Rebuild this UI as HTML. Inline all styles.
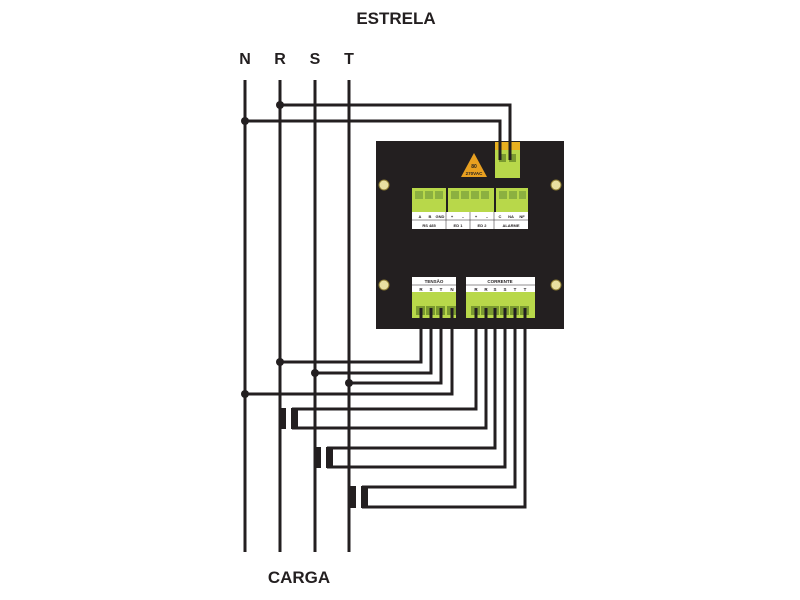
<!DOCTYPE html>
<html><head><meta charset="utf-8"><style>
html,body{margin:0;padding:0;background:#fff;width:800px;height:600px;overflow:hidden}
svg{display:block}
text{font-family:"Liberation Sans",sans-serif;font-weight:bold}
</style></head><body>
<svg width="800" height="600" viewBox="0 0 800 600" xmlns="http://www.w3.org/2000/svg">
<text x="396" y="24" font-size="17" text-anchor="middle" fill="#231f20">ESTRELA</text>
<g font-size="16" fill="#231f20" text-anchor="middle">
<text x="245" y="64">N</text><text x="280" y="64">R</text><text x="315" y="64">S</text><text x="349" y="64">T</text>
</g>
<text x="299" y="583" font-size="17" text-anchor="middle" fill="#231f20">CARGA</text>
<g stroke="#231f20" stroke-width="3" fill="none">
<line x1="245" y1="80" x2="245" y2="552"/>
<line x1="280" y1="80" x2="280" y2="552"/>
<line x1="315" y1="80" x2="315" y2="552"/>
<line x1="349" y1="80" x2="349" y2="552"/>
<polyline points="280,105 510,105 510,160"/>
<polyline points="245,121 500,121 500,160"/>
<polyline points="280,362 421,362 421,318"/>
<polyline points="315,373 431,373 431,318"/>
<polyline points="349,383 441,383 441,318"/>
<polyline points="245,394 452,394 452,318"/>
<polyline points="292,409 476,409 476,318"/>
<polyline points="292,428 486,428 486,318"/>
<polyline points="327,448 495,448 495,318"/>
<polyline points="327,467 505,467 505,318"/>
<polyline points="362,487 515,487 515,318"/>
<polyline points="362,507 525,507 525,318"/>
</g>
<g fill="#231f20">
<circle cx="280" cy="105" r="4"/><circle cx="245" cy="121" r="4"/>
<circle cx="280" cy="362" r="4"/><circle cx="315" cy="373" r="4"/><circle cx="349" cy="383" r="4"/><circle cx="245" cy="394" r="4"/>
<rect x="279" y="408" width="7" height="21"/><rect x="291" y="408" width="7" height="21"/>
<rect x="314" y="447" width="7" height="21"/><rect x="326" y="447" width="7" height="21"/>
<rect x="349" y="486" width="7" height="22"/><rect x="361" y="486" width="7" height="22"/>
<rect x="376" y="141" width="188" height="188"/>
</g>
<!-- screws -->
<g fill="#e8e0a0" stroke="#8a7a30" stroke-width="1">
<circle cx="384" cy="185" r="5"/><circle cx="556" cy="185" r="5"/><circle cx="384" cy="285" r="5"/><circle cx="556" cy="285" r="5"/>
</g>
<!-- top connector -->
<rect x="495" y="142" width="25" height="8" fill="#e8b020"/>
<rect x="495" y="150" width="25" height="28" fill="#b8d84a"/>
<rect x="499" y="154" width="7" height="8" fill="#7a9a30"/><rect x="509" y="154" width="7" height="8" fill="#7a9a30"/>
<g stroke="#231f20" stroke-width="3"><line x1="500" y1="142" x2="500" y2="160"/><line x1="510" y1="142" x2="510" y2="160"/></g>
<!-- warning -->
<polygon points="474,153 461,177 487,177" fill="#e8a020"/>
<text x="474" y="168" font-size="5" text-anchor="middle" fill="#231f20">80</text>
<text x="474" y="175" font-size="4.5" text-anchor="middle" fill="#231f20">270VAC</text>
<!-- top green blocks -->
<g fill="#b8d84a"><rect x="412" y="188" width="34" height="24"/><rect x="448" y="188" width="46" height="24"/><rect x="496" y="188" width="32" height="24"/></g>
<g fill="#8cb040">
<rect x="415" y="191" width="8" height="8"/><rect x="425" y="191" width="8" height="8"/><rect x="435" y="191" width="8" height="8"/>
<rect x="451" y="191" width="8" height="8"/><rect x="461" y="191" width="8" height="8"/><rect x="471" y="191" width="8" height="8"/><rect x="481" y="191" width="8" height="8"/>
<rect x="499" y="191" width="8" height="8"/><rect x="509" y="191" width="8" height="8"/><rect x="519" y="191" width="7" height="8"/>
</g>
<rect x="412" y="212" width="116" height="17" fill="#fff"/>
<g stroke="#231f20" stroke-width="0.5"><line x1="412" y1="220" x2="528" y2="220"/>
<line x1="446" y1="212" x2="446" y2="229"/><line x1="470" y1="212" x2="470" y2="229"/><line x1="494" y1="212" x2="494" y2="229"/></g>
<g font-size="4" fill="#231f20" text-anchor="middle">
<text x="420" y="218">A</text><text x="430" y="218">B</text><text x="440" y="218">GND</text>
<text x="452" y="218">+</text><text x="463" y="218">–</text><text x="476" y="218">+</text><text x="487" y="218">–</text>
<text x="500" y="218">C</text><text x="511" y="218">NA</text><text x="522" y="218">NF</text>
<text x="429" y="227">RS 485</text><text x="458" y="227">ED 1</text><text x="482" y="227">ED 2</text><text x="511" y="227">ALARME</text>
</g>
<!-- bottom blocks -->
<rect x="412" y="277" width="44" height="15" fill="#fff"/>
<rect x="466" y="277" width="69" height="15" fill="#fff"/>
<g stroke="#231f20" stroke-width="0.5"><line x1="412" y1="285" x2="456" y2="285"/><line x1="466" y1="285" x2="535" y2="285"/></g>
<g font-size="4.5" fill="#231f20" text-anchor="middle">
<text x="434" y="283">TENSÃO</text><text x="500" y="283">CORRENTE</text>
<text x="421" y="291">R</text><text x="431" y="291">S</text><text x="441" y="291">T</text><text x="452" y="291">N</text>
<text x="476" y="291">R</text><text x="486" y="291">R</text><text x="495" y="291">S</text><text x="505" y="291">S</text><text x="515" y="291">T</text><text x="525" y="291">T</text>
</g>
<rect x="412" y="292" width="44" height="26" fill="#b8d84a"/>
<rect x="466" y="292" width="69" height="26" fill="#b8d84a"/>
<g fill="#7a9a30">
<rect x="416" y="306" width="9" height="9"/><rect x="426" y="306" width="9" height="9"/><rect x="436" y="306" width="9" height="9"/><rect x="447" y="306" width="9" height="9"/>
<rect x="471" y="306" width="9" height="9"/><rect x="481" y="306" width="9" height="9"/><rect x="490" y="306" width="9" height="9"/><rect x="500" y="306" width="9" height="9"/><rect x="510" y="306" width="9" height="9"/><rect x="520" y="306" width="9" height="9"/>
</g>
<g stroke="#231f20" stroke-width="3">
<line x1="421" y1="308" x2="421" y2="330"/><line x1="431" y1="308" x2="431" y2="330"/><line x1="441" y1="308" x2="441" y2="330"/><line x1="452" y1="308" x2="452" y2="330"/>
<line x1="476" y1="308" x2="476" y2="330"/><line x1="486" y1="308" x2="486" y2="330"/><line x1="495" y1="308" x2="495" y2="330"/><line x1="505" y1="308" x2="505" y2="330"/><line x1="515" y1="308" x2="515" y2="330"/><line x1="525" y1="308" x2="525" y2="330"/>
</g>
</svg>
</body></html>
